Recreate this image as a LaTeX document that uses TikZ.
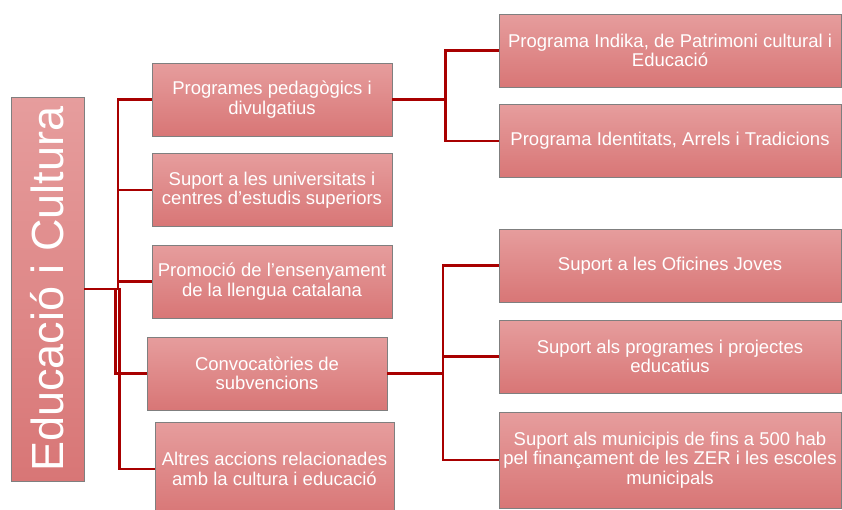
\documentclass[tikz,border=0pt]{standalone}
\usepackage{fontspec}
\setmainfont{Liberation Sans}
\usepackage{xcolor}
\usepackage{tikz}
\usetikzlibrary{calc}
\definecolor{EduTop}{HTML}{E69D9D}
\definecolor{EduBot}{HTML}{D87676}
\definecolor{EduEdge}{HTML}{7F7F7F}
\definecolor{EduLink}{HTML}{A80000}

\begin{document}
\begin{tikzpicture}[x=1pt, y=-1pt,
    box/.style={draw=EduEdge, line width=0.8pt, top color=EduTop, bottom color=EduBot, text=white, align=center, inner sep=2pt, font=\fontsize{18.5}{19.5}\selectfont},
    link/.style={draw=EduLink, line width=2.8pt},
    elbow/.style={to path={-- ($(\tikztostart)!.5!(\tikztostart-|\tikztotarget)$) |- (\tikztotarget)}}]
    \clip (0,0) rectangle (842,509);
    \node[box, minimum width=73pt, minimum height=384pt, font=\fontsize{45}{50}\selectfont] (root) at (47.5,289) {\rotatebox{90}{Educació i Cultura}};
    % first level
    \node[box, minimum width=240pt, minimum height=73pt] (pedag) at (272,99.5) {Programes pedagògics i\\divulgatius};
    \node[box, minimum width=240pt, minimum height=73pt] (univ) at (272,190) {Suport a les universitats i\\centres d’estudis superiors};
    \node[box, minimum width=240pt, minimum height=73pt] (llengua) at (272,281.5) {Promoció de l’ensenyament\\de la llengua catalana};
    \node[box, minimum width=240pt, minimum height=73pt] (convoc) at (267,373.5) {Convocatòries de\\subvencions};
    \node[box, minimum width=239pt, minimum height=94pt] (altres) at (274.5,469) {Altres accions relacionades\\amb la cultura i educació};
    % second level
    \node[box, minimum width=342pt, minimum height=73pt] (indika) at (670,50.5) {Programa Indika, de Patrimoni cultural i\\Educació};
    \node[box, minimum width=342pt, minimum height=73pt] (arrels) at (670,141) {Programa Identitats, Arrels i Tradicions};
    \node[box, minimum width=342pt, minimum height=73pt] (oficines) at (670,265.5) {Suport a les Oficines Joves};
    \node[box, minimum width=342pt, minimum height=73pt] (projectes) at (670,356.5) {Suport als programes i projectes\\educatius};
    \node[box, minimum width=342pt, minimum height=96pt] (municipis) at (670,460) {Suport als municipis de fins a 500 hab\\pel finançament de les ZER i les escoles\\municipals};
    \draw[link] (root.east) to[elbow] (pedag.west);
    \draw[link] (root.east) to[elbow] (univ.west);
    \draw[link] (root.east) to[elbow] (llengua.west);
    \draw[link] (root.east) to[elbow] (convoc.west);
    \draw[link] (root.east) to[elbow] (altres.west);
    \draw[link] (pedag.east) to[elbow] (indika.west);
    \draw[link] (pedag.east) to[elbow] (arrels.west);
    \draw[link] (convoc.east) to[elbow] (oficines.west);
    \draw[link] (convoc.east) to[elbow] (projectes.west);
    \draw[link] (convoc.east) to[elbow] (municipis.west);
  \end{tikzpicture}
\end{document}
